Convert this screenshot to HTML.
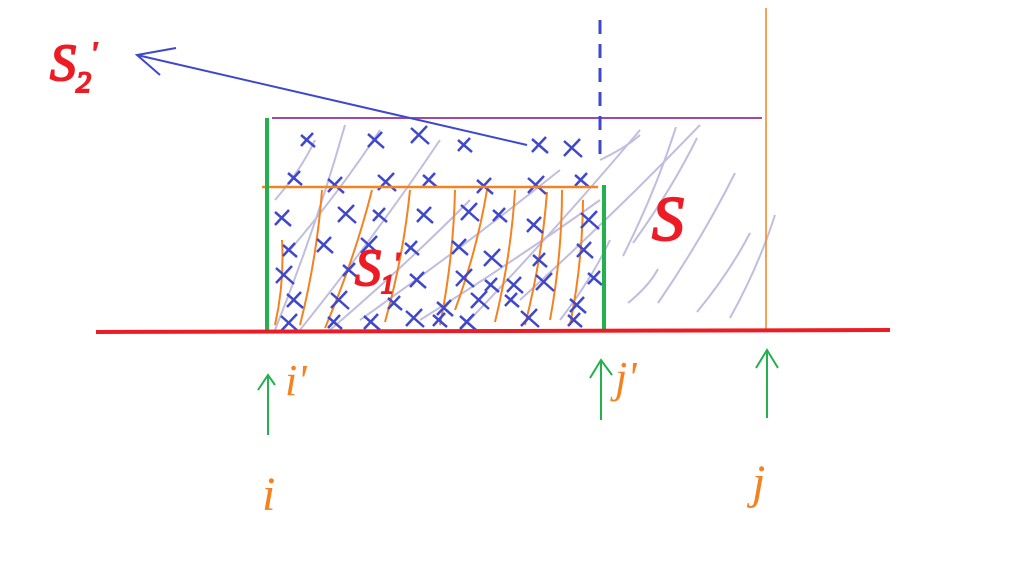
<!DOCTYPE html>
<html><head><meta charset="utf-8"><style>
html,body{margin:0;padding:0;background:#fff;width:1032px;height:561px;overflow:hidden}
svg{display:block}
text{font-family:"Liberation Serif",serif;font-style:italic}
</style></head><body>
<svg id="s" width="1032" height="561" viewBox="0 0 1032 561">
<g id="hatch" stroke="#c0bde0" stroke-width="2" fill="none"></g>
<g id="orangeV" stroke="#f58220" stroke-width="2" fill="none"></g>
<g id="xs" stroke="#3f48cc" stroke-width="2.5" fill="none"></g>
<line x1="272" y1="118" x2="762" y2="118" stroke="#a349a4" stroke-width="2"/>
<line x1="262" y1="187" x2="598" y2="187" stroke="#f58220" stroke-width="2.5"/>
<line x1="766" y1="8" x2="766" y2="331" stroke="#f58220" stroke-width="1.5"/>
<line x1="600" y1="20" x2="600" y2="160" stroke="#3f48cc" stroke-width="3" stroke-dasharray="14,10"/>
<line x1="267" y1="118" x2="267" y2="332" stroke="#22b14c" stroke-width="4"/>
<line x1="604" y1="185" x2="604" y2="330" stroke="#22b14c" stroke-width="4"/>
<line x1="96" y1="332" x2="890" y2="330" stroke="#ed1c24" stroke-width="4"/>
<g stroke="#3f48cc" stroke-width="2" fill="none">
<line x1="527" y1="145" x2="137" y2="55"/>
<path d="M176,48 L137,55 L160,75"/>
</g>
<g stroke="#22b14c" stroke-width="2" fill="none">
<path d="M268,435 L268,375 M258,390 L268,375 L275,385"/>
<path d="M601,420 L601,360 M590,378 L601,360 L612,375"/>
<path d="M767,418 L767,350 M756,368 L767,350 L778,368"/>
</g>
<text x="50" y="80" font-size="52" fill="#ed1c24" stroke="#ed1c24" stroke-width="2">S<tspan font-size="30" dy="12">2</tspan><tspan font-size="28" dy="-30">'</tspan></text>
<text x="355" y="285" font-size="52" fill="#ed1c24" stroke="#ed1c24" stroke-width="2">S<tspan font-size="26" dy="8">1</tspan><tspan font-size="26" dy="-22">'</tspan></text>
<text x="652" y="240" font-size="64" fill="#ed1c24" stroke="#ed1c24" stroke-width="2">S</text>
<text x="285" y="395" font-size="44" fill="#f58220">i'</text>
<text x="615" y="392" font-size="44" fill="#f58220">j'</text>
<text x="262" y="510" font-size="48" fill="#f58220">i</text>
<text x="752" y="498" font-size="48" fill="#f58220">j</text>
</svg>
<script>
const NS="http://www.w3.org/2000/svg";
const hatchStarts=[[275,330,345,125],[290,250,380,130],[300,330,440,140],[330,330,470,200],[360,320,560,170],[420,320,600,200],[460,330,640,130],[520,300,700,125],[560,320,610,240],[275,200,315,140],[600,160,640,135],[623,256,676,127],[633,243,697,138],[628,303,658,269],[658,303,735,173],[697,312,750,233],[730,318,775,215]];
const orangeCurves=[[282,240,275,325],[322,190,300,325],[372,190,325,328],[410,190,385,322],[455,190,440,325],[487,190,455,310],[515,190,495,322],[547,192,525,325],[583,200,570,325],[562,190,550,320]];
const crossPts=[[308,140],[376,140],[420,135],[465,145],[540,145],[573,148],[295,178],[336,185],[387,182],[430,180],[485,186],[537,185],[582,180],[283,218],[347,214],[380,215],[425,215],[470,212],[500,215],[535,225],[590,220],[290,250],[325,245],[370,245],[412,248],[460,247],[493,258],[540,260],[585,250],[285,275],[350,270],[418,280],[465,278],[492,285],[515,285],[545,282],[595,278],[295,300],[340,300],[395,303],[445,308],[480,300],[512,300],[578,305],[290,323],[335,322],[372,322],[415,318],[440,320],[468,322],[530,318],[575,320]];
const gH=document.getElementById('hatch'),gO=document.getElementById('orangeV'),gX=document.getElementById('xs');
hatchStarts.forEach(h=>{const p=document.createElementNS(NS,'path');
p.setAttribute('d',`M${h[0]},${h[1]} Q${(h[0]+h[2])/2+6},${(h[1]+h[3])/2} ${h[2]},${h[3]}`);


gH.appendChild(p);});
orangeCurves.forEach(c=>{const p=document.createElementNS(NS,'path');
p.setAttribute('d',`M${c[0]},${c[1]} Q${(c[0]+c[2])/2+6},${(c[1]+c[3])/2} ${c[2]},${c[3]}`);


gO.appendChild(p);});
crossPts.forEach((c,i)=>{const p=document.createElementNS(NS,'path');const a=(i%3)+7;
p.setAttribute('d',`M${c[0]-a},${c[1]-a+2} L${c[0]+a},${c[1]+a} M${c[0]+a-2},${c[1]-a} L${c[0]-a},${c[1]+a-1}`);


gX.appendChild(p);});
</script>
</body></html>
